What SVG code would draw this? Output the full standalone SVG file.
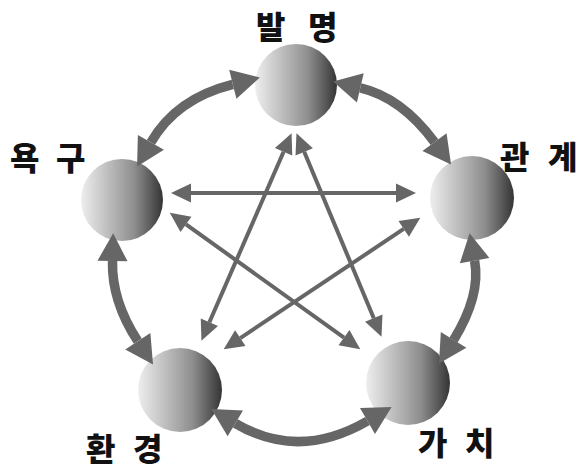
<svg xmlns="http://www.w3.org/2000/svg" width="579" height="471" viewBox="0 0 579 471">
  <defs>
    <linearGradient id="ball" x1="0" y1="0" x2="1" y2="0">
      <stop offset="0" stop-color="#eeeeee"/>
      <stop offset="0.3" stop-color="#c2c2c2"/>
      <stop offset="0.65" stop-color="#8e8e8e"/>
      <stop offset="1" stop-color="#343434"/>
    </linearGradient>
    <marker id="bigHead" markerUnits="userSpaceOnUse" markerWidth="30" markerHeight="30" refX="0" refY="14" viewBox="0 0 26 28" orient="auto-start-reverse" overflow="visible">
      <path d="M0,0 L26,14 L0,28 Z" fill="#666666"/>
    </marker>
    <marker id="smallHead" markerUnits="userSpaceOnUse" markerWidth="20" markerHeight="20" refX="0" refY="8" viewBox="0 0 17 16" orient="auto-start-reverse" overflow="visible">
      <path d="M0,0 L17,8 L0,16 Z" fill="#666666"/>
    </marker>
  </defs>
  <style>
    .ball { fill: url(#ball); }
    .label { font-family: "Noto Sans CJK KR", "Noto Sans", sans-serif; font-weight: 900; font-size: 32px; fill: #111111; }
    .arc { fill: none; stroke: #666666; stroke-width: 9.5; marker-start: url(#bigHead); marker-end: url(#bigHead); }
    .star { fill: none; stroke: #666666; stroke-width: 4; marker-start: url(#smallHead); marker-end: url(#smallHead); }
  </style>

  <g id="node-invention">
    <circle class="ball" cx="296" cy="85" r="41"/>
    <text class="label"><tspan x="256" y="39">발</tspan><tspan x="308" y="39">명</tspan></text>
  </g>
  <g id="node-desire">
    <circle class="ball" cx="122" cy="200" r="41"/>
    <text class="label"><tspan x="10" y="170">욕</tspan><tspan x="56" y="170">구</tspan></text>
  </g>
  <g id="node-relation">
    <circle class="ball" cx="472" cy="198" r="42"/>
    <text class="label"><tspan x="500" y="169">관</tspan><tspan x="548" y="169">계</tspan></text>
  </g>
  <g id="node-environment">
    <circle class="ball" cx="180" cy="390" r="42"/>
    <text class="label"><tspan x="86" y="461">환</tspan><tspan x="133" y="461">경</tspan></text>
  </g>
  <g id="node-value">
    <circle class="ball" cx="408" cy="383" r="42"/>
    <text class="label"><tspan x="418" y="455">가</tspan><tspan x="465" y="455">치</tspan></text>
  </g>

  <g id="connectors">
    <path class="arc" d="M150.9,142.4 Q176,98.5 232.8,84.3"/>
    <path class="arc" d="M360.3,87.9 Q401.5,97.5 434.5,142.1"/>
    <path class="arc" d="M112.5,261 Q111.5,301 137.8,341.2"/>
    <path class="arc" d="M474.6,260.6 Q481,295.5 453.6,339.9"/>
    <path class="arc" d="M235.3,423.3 Q298.5,461 367.5,421"/>

    <path class="star" d="M191,193 L396,193"/>
    <path class="star" d="M283.6,151.7 L209.4,322.3"/>
    <path class="star" d="M304.2,151.8 L373.8,318.2"/>
    <path class="star" d="M186,224.3 L344,337.7"/>
    <path class="star" d="M403.7,228.9 L240.3,338.1"/>
  </g>
</svg>
